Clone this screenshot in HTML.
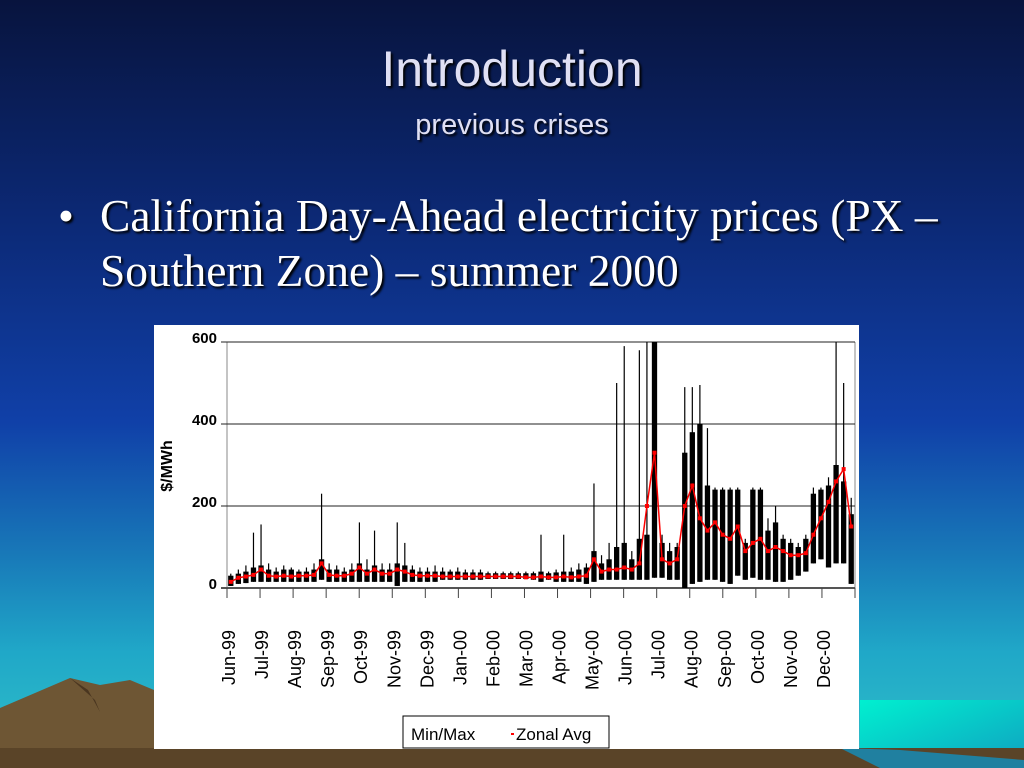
<!DOCTYPE html>
<html><head><meta charset="utf-8">
<style>
html,body{margin:0;padding:0;}
body{width:1024px;height:768px;overflow:hidden;position:relative;
background:linear-gradient(180deg,#08143e 0%,#0c2a78 30%,#1040a8 55%,#1878b8 72%,#20a8c8 85%,#30c0c8 100%);}
.t{position:absolute;left:0;width:1024px;text-align:center;color:#e0e0f4;font-family:"Liberation Sans",sans-serif;text-shadow:2px 2px 2px #000;}
.b{position:absolute;color:#fff;font-family:"Liberation Serif",serif;font-size:45.5px;text-shadow:2px 2px 2px #000;white-space:nowrap;}
</style></head>
<body>
<svg width="1024" height="768" style="position:absolute;left:0;top:0">
<defs><linearGradient id="sea" x1="0" y1="0" x2="1" y2="1"><stop offset="0" stop-color="#00f0d0"/><stop offset="1" stop-color="#10a0c0"/></linearGradient></defs>
<rect x="860" y="700" width="164" height="68" fill="url(#sea)"/>
<polygon points="0,708 70,678 100,685 130,680 154,690 154,768 0,768" fill="#6e5634"/>
<polygon points="70,678 95,700 100,712 88,690" fill="#4a3620"/>
<rect x="0" y="748" width="1024" height="20" fill="#5a4428"/>
<polygon points="840,748 880,768 1024,768 1024,760 900,750" fill="#2080a0"/>
</svg>
<div class="t" style="top:40px;font-size:50px">Introduction</div>
<div class="t" style="top:109px;font-size:29px">previous crises</div>
<div class="b" style="left:58px;top:188px;line-height:55px">•</div>
<div class="b" style="left:100px;top:188px;line-height:55px">California Day-Ahead electricity prices (PX –<br>Southern Zone) – summer 2000</div>

<svg id="chart" width="1024" height="768" style="position:absolute;left:0;top:0"></svg>
<script>
const monthLabels=["Jun-99","Jul-99","Aug-99","Sep-99","Oct-99","Nov-99","Dec-99","Jan-00","Feb-00","Mar-00","Apr-00","May-00","Jun-00","Jul-00","Aug-00","Sep-00","Oct-00","Nov-00","Dec-00"];
const yTicks=[0,200,400,600];
const weeklyMax=[35,45,55,135,155,60,50,55,50,45,50,60,230,60,55,50,60,160,70,140,60,60,160,110,55,50,50,55,50,45,50,45,45,45,40,40,40,40,40,40,40,130,40,45,130,50,60,60,255,80,110,500,590,90,580,600,600,130,110,110,490,490,495,390,245,245,245,245,120,245,245,170,200,130,120,110,130,245,245,270,600,500,220];
const weeklyMin=[5,10,12,15,15,15,15,15,15,15,15,15,20,15,15,15,15,15,15,15,15,15,5,15,15,15,15,15,20,20,20,20,20,20,22,22,22,22,22,22,20,15,20,15,15,15,15,10,15,20,20,20,20,20,20,20,25,25,20,20,0,10,15,20,20,15,10,30,20,25,20,20,15,15,20,30,40,60,70,50,60,60,10];
const typicalHigh=[30,35,40,50,55,45,40,45,45,40,40,45,70,45,45,40,45,60,45,55,45,45,60,55,45,40,40,40,40,40,40,38,38,38,36,36,36,36,36,36,36,40,36,38,40,40,45,50,90,60,70,100,110,70,120,130,600,110,90,100,330,380,400,250,240,240,240,240,110,240,240,140,160,120,110,100,120,230,240,250,300,260,180];
const weeklyAvg=[15,25,28,32,45,30,28,30,28,30,30,32,60,32,30,30,35,50,35,45,35,35,45,40,32,30,30,30,28,28,28,28,28,28,28,28,28,28,28,26,26,28,26,26,28,26,28,30,70,40,45,45,50,45,60,200,330,70,60,70,200,250,170,140,160,130,120,150,90,110,120,90,100,90,80,80,85,130,170,210,260,290,150];
const svg=document.getElementById('chart');
const NS='http://www.w3.org/2000/svg';
const X0=227,X1=855,Y0=588,Y600=342;
const xMonth=i=>X0+(X1-X0)*i/19;
const xWeek=i=>X0+(X1-X0)*(i+0.5)/weeklyMax.length;
const yv=v=>Y0-(Y0-Y600)*v/600;
function mk(tag,attrs){const e=document.createElementNS(NS,tag);for(const k in attrs)e.setAttribute(k,attrs[k]);svg.appendChild(e);return e;}
let e=mk('rect',{x:154,y:325,width:705,height:424,fill:'#fff'});


e=mk('line',{x1:X0,y1:yv(600),x2:X0,y2:Y0,stroke:'#888','stroke-width':1});


e=mk('line',{x1:X1,y1:yv(600),x2:X1,y2:Y0+10,stroke:'#888','stroke-width':1});


yTicks.forEach(v=>{
  e=mk('line',{x1:221,y1:yv(v),x2:X1,y2:yv(v),stroke:v==0?'#555':'#222','stroke-width':v==0?2:1});
  
  
  e=mk('text',{x:217,y:yv(v)+1,'text-anchor':'end','font-family':'Liberation Sans,sans-serif','font-size':15,'font-weight':'bold',fill:'#000'});
  e.textContent=v;
  
  
});
e=mk('text',{transform:'translate(172,466) rotate(-90)','text-anchor':'middle','font-family':'Liberation Sans,sans-serif','font-size':16,'font-weight':'bold',fill:'#000'});
e.textContent='$/MWh';


for(let i=0;i<=19;i++){
  e=mk('line',{x1:xMonth(i),y1:Y0,x2:xMonth(i),y2:Y0+10,stroke:'#444','stroke-width':1});
  
  
}
monthLabels.forEach((m,i)=>{
  const x=xMonth(i)+8;
  e=mk('text',{transform:`translate(${x},630) rotate(-90)`,'text-anchor':'end','font-family':'Liberation Sans,sans-serif','font-size':18,fill:'#000'});
  e.textContent=m;
  
  
});
const ww=(X1-X0)/weeklyMax.length;
weeklyMax.forEach((mx,i)=>{
  const x=xWeek(i);
  e=mk('line',{x1:x,y1:yv(mx),x2:x,y2:yv(weeklyMin[i]),stroke:'#000','stroke-width':1.2});
  
  
  e=mk('rect',{x:x-ww*0.35,y:yv(typicalHigh[i]),width:ww*0.7,height:Math.max(1,yv(weeklyMin[i])-yv(typicalHigh[i])),fill:'#000'});
  
  
});
weeklyAvg.forEach((v,i)=>{
  e=mk('rect',{x:xWeek(i)-2,y:yv(v)-2,width:4,height:4,fill:'#ff0000'});
  
  
});
let pts=weeklyAvg.map((v,i)=>xWeek(i)+','+yv(v)).join(' ');
e=mk('polyline',{points:pts,fill:'none',stroke:'#ff0000','stroke-width':1.5});


e=mk('rect',{x:403,y:716,width:206,height:32,fill:'#fff',stroke:'#000','stroke-width':1});


e=mk('text',{x:411,y:740,'font-family':'Liberation Sans,sans-serif','font-size':17,fill:'#000'});
e.textContent='Min/Max';


e=mk('rect',{x:511,y:733,width:3,height:2,fill:'#ff0000'});


e=mk('text',{x:516,y:740,'font-family':'Liberation Sans,sans-serif','font-size':17,fill:'#000'});
e.textContent='Zonal Avg';


</script>
</body></html>
